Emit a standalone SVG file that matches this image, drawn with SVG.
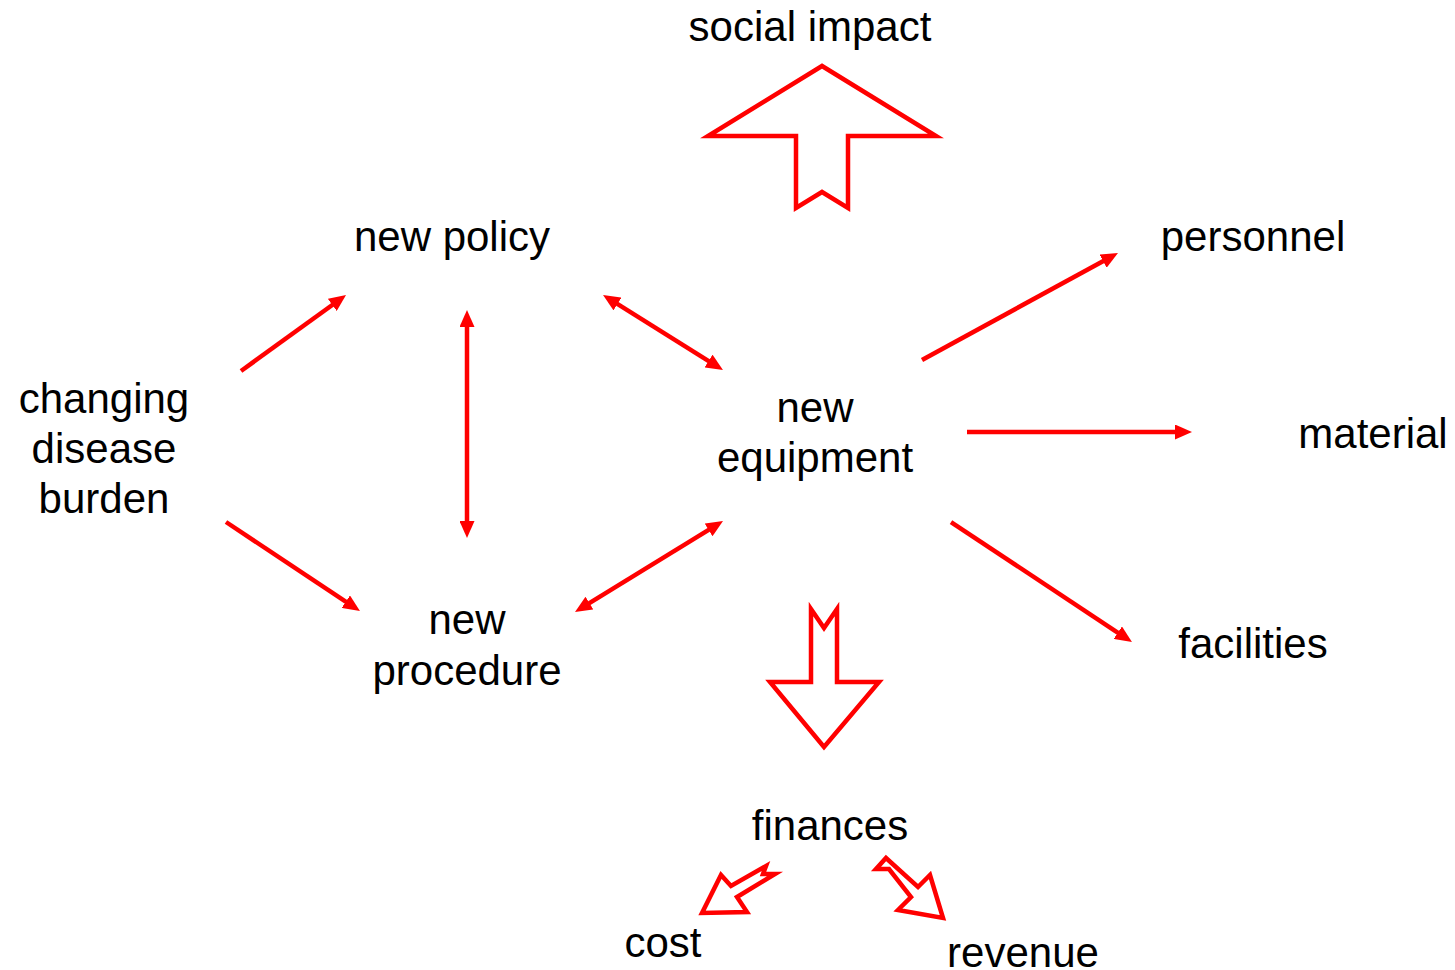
<svg xmlns="http://www.w3.org/2000/svg" width="1455" height="970" viewBox="0 0 1455 970">
<style>
text{font-family:"Liberation Sans",Arial,sans-serif;font-size:42px;fill:#000;text-anchor:middle}
.c{stroke:#ff0000;stroke-width:4.5;fill:none}
.big{stroke:#ff0000;stroke-width:4.5;fill:#fff;stroke-linejoin:miter}
</style>
<defs>
<marker id="ah" viewBox="0 0 17 15" refX="3" refY="7.5" markerWidth="17" markerHeight="15" markerUnits="userSpaceOnUse" orient="auto-start-reverse">
<path d="M0,0 L17,7.5 L0,15 z" fill="#ff0000"/>
</marker>
</defs>
<rect width="1455" height="970" fill="#fff"/>
<g id="connectors">
<line class="c" x1="241" y1="371" x2="334.7" y2="303.2" marker-end="url(#ah)"/>
<line class="c" x1="226" y1="522" x2="348.3" y2="603.3" marker-end="url(#ah)"/>
<line class="c" x1="467" y1="324" x2="467" y2="524" marker-start="url(#ah)" marker-end="url(#ah)"/>
<line class="c" x1="614.9" y1="302.4" x2="711.1" y2="362.6" marker-start="url(#ah)" marker-end="url(#ah)"/>
<line class="c" x1="586.9" y1="604.7" x2="711.1" y2="528.3" marker-start="url(#ah)" marker-end="url(#ah)"/>
<line class="c" x1="922" y1="360" x2="1105.7" y2="259.7" marker-end="url(#ah)"/>
<line class="c" x1="967" y1="432" x2="1178" y2="432" marker-end="url(#ah)"/>
<line class="c" x1="951" y1="522" x2="1120.3" y2="634.3" marker-end="url(#ah)"/>
<polygon id="arrow-social" class="big" points="822,66 708,136 796,136 796,208 822,192 848,208 848,136 936,136"/>
<polygon id="arrow-finances" class="big" points="811,609 824,628 837,609 837,682 879,682 824,747 770,682 811,682"/>
<polygon id="arrow-cost" class="big" points="702,913 721,875 731,886 766,866 763,874 775,874 737,897 747,912"/>
<polygon id="arrow-revenue" class="big" points="943,918 930,875 918,887 886,858 876,869 889,869 911,897 898,910"/>
</g>
<g id="social-impact"><text x="810" y="41">social impact</text></g>
<g id="new-policy"><text x="452" y="251">new policy</text></g>
<g id="personnel"><text x="1253" y="251">personnel</text></g>
<g id="changing-disease-burden"><text x="104" y="413">changing</text><text x="104" y="463">disease</text><text x="104" y="513">burden</text></g>
<g id="new-equipment"><text x="815" y="422">new</text><text x="815" y="472">equipment</text></g>
<g id="material"><text x="1373" y="448">material</text></g>
<g id="new-procedure"><text x="467" y="634">new</text><text x="467" y="685">procedure</text></g>
<g id="facilities"><text x="1253" y="658">facilities</text></g>
<g id="finances"><text x="830" y="840">finances</text></g>
<g id="cost"><text x="663" y="957">cost</text></g>
<g id="revenue"><text x="1023" y="967">revenue</text></g>
</svg>
